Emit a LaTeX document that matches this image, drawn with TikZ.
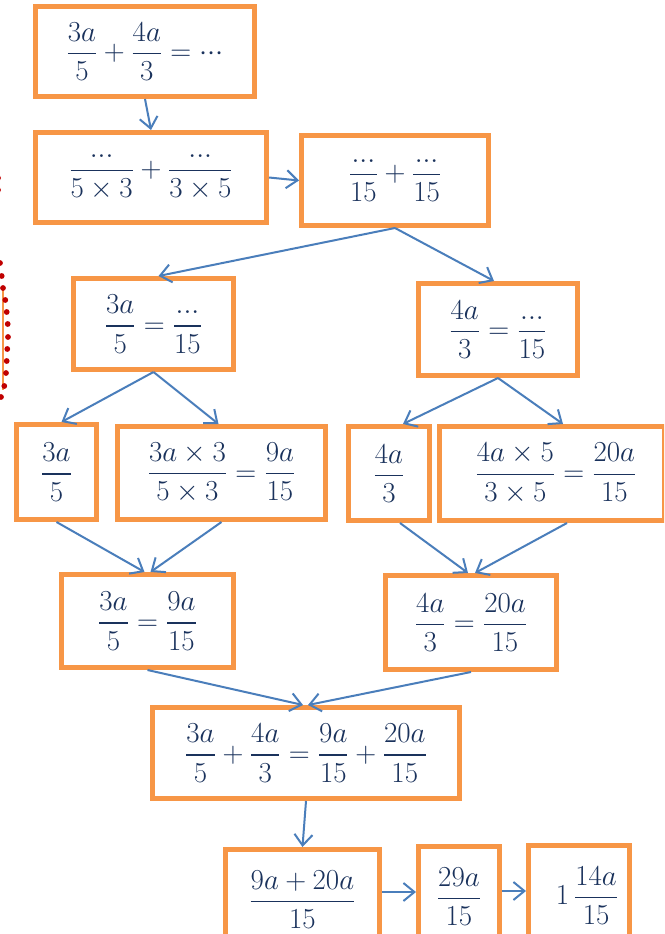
\documentclass[tikz,border=0pt]{standalone}
\usepackage{graphicx}
\usepackage{amsmath}
\usetikzlibrary{arrows.meta}
\definecolor{boxorange}{RGB}{247,150,70}
\definecolor{linkblue}{RGB}{74,126,187}
\definecolor{inkblue}{RGB}{26,50,92}
\definecolor{dotred}{RGB}{192,0,0}
\newcommand\blank{\mathord{.}\mathord{.}\mathord{.}}
\newcommand\mdots{\mathord{\cdot}\mathord{\cdot}\mathord{\cdot}}
\newcommand\eqn[1]{\scalebox{1.166}{$\displaystyle#1$}}
\begin{document}
\begin{tikzpicture}[x=1pt,y=-1pt,
  stepbox/.style 2 args={draw=boxorange, line width=5pt, fill=white, text=inkblue,
    inner sep=0pt, minimum width=#1, minimum height=#2,
    font=\fontsize{24.88}{30}\selectfont},
  link/.style={draw=linkblue, line width=2pt,
    -{Straight Barb[length=11pt,width=18pt]}}]
\useasboundingbox (0,0) rectangle (664,934);
\clip (0,0) rectangle (664,934);
\fill[white] (0,0) rectangle (664,934);

% edge of a neighbouring dotted frame
\draw[boxorange, line width=2.5pt] (3,288) -- (3,390);
\foreach \px/\py in {-2/178,-2/190,0/263,1.7/276,3/288,5.3/300,6.7/312,7.7/324,8/337,7.3/349,6.7/361,6/373,4.3/386,1/397}
  \fill[dotred] (\px,\py) circle (2.9);

% boxes
\node[stepbox={219}{90}] (A) at (145,51.5)
  {\eqn{\frac{3a}{5}+\frac{4a}{3}=\mdots}};
\node[stepbox={231}{90}] (B) at (151,177.5)
  {\eqn{\frac{\blank}{5\times3}+\frac{\blank}{3\times5}}};
\node[stepbox={187}{90}] (C) at (395,180.5)
  {\eqn{\frac{\blank}{15}+\frac{\blank}{15}}};
\node[stepbox={160}{91}] (D) at (153.5,324)
  {\eqn{\frac{3a}{5}=\frac{\blank}{15}}};
\node[stepbox={159}{92}] (E) at (498,329.5)
  {\eqn{\frac{4a}{3}=\frac{\blank}{15}}};
\node[stepbox={80}{95}] (F) at (56.5,472)
  {\eqn{\frac{3a}{5}}};
\node[stepbox={208}{93}] (G) at (221.5,473)
  {\eqn{\frac{3a\times3}{5\times3}=\frac{9a}{15}}};
\node[stepbox={81}{94}] (H) at (389,473.5)
  {\eqn{\frac{4a}{3}}};
\node[stepbox={225}{94}] (I) at (552,473.5)
  {\hspace*{8pt}\eqn{\frac{4a\times5}{3\times5}=\frac{20a}{15}}};
\node[stepbox={172}{93}] (J) at (147.5,621)
  {\eqn{\frac{3a}{5}=\frac{9a}{15}}};
\node[stepbox={171}{94}] (K) at (471,622.5)
  {\eqn{\frac{4a}{3}=\frac{20a}{15}}};
\node[stepbox={307}{91}] (L) at (306,753)
  {\eqn{\frac{3a}{5}+\frac{4a}{3}=\frac{9a}{15}+\frac{20a}{15}}};
\node[stepbox={154}{100}] (M) at (302.5,899.5)
  {\eqn{\frac{9a+20a}{15}}};
\node[stepbox={81}{100}] (N) at (459,896.5)
  {\eqn{\frac{29a}{15}}};
\node[stepbox={101}{100}] (O) at (579,895.5)
  {\hspace*{16pt}\eqn{1\,\frac{14a}{15}}};

% connectors
\draw[link] (A.south) -- (B.north);
\draw[link] (B.east) -- (C.west);
\draw[link] (C.south) -- ([xshift=5pt]D.north);
\draw[link] (C.south) -- ([xshift=-4pt]E.north);
\draw[link] (D.south) -- ([xshift=5pt]F.north);
\draw[link] (D.south) -- ([xshift=-3pt]G.north);
\draw[link] (E.south) -- ([xshift=14pt]H.north);
\draw[link] (E.south) -- ([xshift=11pt]I.north);
\draw[link] (F.south) -- ([xshift=-3pt]J.north);
\draw[link] (G.south) -- ([xshift=3pt]J.north);
\draw[link] ([xshift=11pt]H.south) -- ([xshift=-3pt]K.north);
\draw[link] ([xshift=15pt]I.south) -- ([xshift=4pt]K.north);
\draw[link] (J.south) -- ([xshift=-3pt]L.north);
\draw[link] (K.south) -- ([xshift=2pt]L.north);
\draw[link] (L.south) -- (M.north);
\draw[link] ([yshift=7.5pt]M.east) -- ([yshift=4.5pt]N.west);
\draw[link] ([yshift=5.5pt]N.east) -- ([yshift=4.5pt]O.west);
\end{tikzpicture}
\end{document}
